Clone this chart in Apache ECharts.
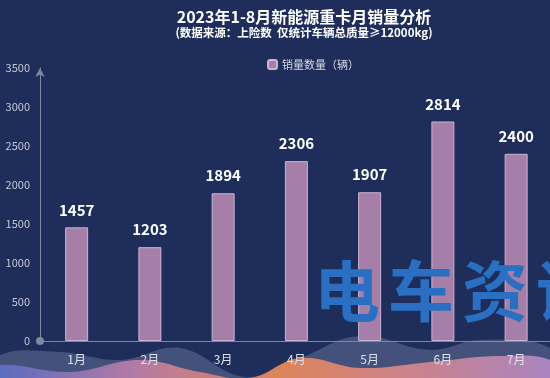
<!DOCTYPE html>
<html><head><meta charset="utf-8">
<script src="https://cdn.jsdelivr.net/npm/echarts@6/dist/echarts.min.js"></script>
<style>html,body{margin:0;padding:0;background:#1e2d5a;}#c{width:550px;height:378px;}</style>
</head><body><div id="c"></div>
<script>
const categories = ['1月','2月','3月','4月','5月','6月','7月','8月'];
const sales = [1457, 1203, 1894, 2306, 1907, 2814, 2400, null];
const yTicks = [0, 500, 1000, 1500, 2000, 2500, 3000, 3500];
const seriesName = '销量数量（辆）';
const titleText = '2023年1-8月新能源重卡月销量分析';
const subText = '(数据来源：上险数  仅统计车辆总质量≥12000kg)';
const watermark = ['电','车','资','讯'];

const chart = echarts.init(document.getElementById('c'), null, {renderer:'canvas'});
const F = '"Noto Sans CJK SC","Microsoft YaHei",sans-serif';
const wm = watermark.map((ch, i) => ({type:'text', silent:true, z:10, left: 314 + i*74, top: 258,
  style:{text: ch, fill:'#2a6fc2', font:'bold 66px "Noto Sans CJK SC", sans-serif'}}));
chart.setOption({
  backgroundColor: '#1e2d5a',
  animation: false,
  title: {
    text: titleText, subtext: subText, left: 299, top: 4, textAlign: 'center', itemGap: 2,
    textStyle: {color:'#ffffff', fontSize: 16, fontWeight:'bold', fontFamily: F},
    subtextStyle: {color:'#ffffff', fontSize: 11.5, fontWeight:'bold', fontFamily: F}
  },
  legend: {
    data: [seriesName], left: 262, top: 54, itemWidth: 9, itemHeight: 9, itemGap: 4,
    textStyle: {color:'#d5d8e4', fontSize: 11, fontFamily: F}
  },
  grid: {left: 40, width: 586, top: 68, bottom: 37, containLabel: false, outerBoundsMode: 'none'},
  xAxis: {
    type: 'category', data: categories,
    axisLine: {lineStyle:{color:'#7d86a3', width:1}, symbol:['circle','none'], symbolSize:[8,8]},
    axisTick: {show:false},
    axisLabel: {color:'#dfe2ec', fontSize: 12, margin: 12, fontFamily: F}
  },
  yAxis: {
    type: 'value', min: yTicks[0], max: yTicks[yTicks.length-1], interval: 500,
    axisLine: {show:true, lineStyle:{color:'#7d86a3', width:1}, symbol:['none','arrow'], symbolSize:[7,9]},
    axisTick: {show:false},
    splitLine: {show:false},
    axisLabel: {color:'#c5c9d8', fontSize: 11, margin: 10, fontFamily: F, formatter: v => String(v)}
  },
  graphic: [
    {type:'polygon', silent:true, z:-1, shape:{smooth:0.4, points:[[0,355],[60,352],[120,360],[180,348],[245,377],[300,358],[360,336],[430,350],[480,340],[550,348],[550,378],[0,378]]}, style:{fill:'rgba(140,150,185,0.35)'}},
    {type:'polygon', silent:true, z:-1, shape:{smooth:0.4, points:[[0,365],[70,372],[140,360],[200,372],[250,378],[300,358],[360,368],[430,362],[500,356],[550,360],[550,378],[0,378]]},
      style:{fill:{type:'linear',x:0,y:0,x2:1,y2:0,colorStops:[{offset:0,color:'#5d6fc8'},{offset:0.25,color:'#c07fa8'},{offset:0.5,color:'#ee8a55'},{offset:0.75,color:'#d9888f'},{offset:1,color:'#b48ac8'}]}, opacity:0.9}}
  ].concat(wm),
  series: [{
    name: seriesName, type: 'bar', data: sales, barWidth: 23,
    itemStyle: {color:'#a67fa9', borderColor:'#cbb3d6', borderWidth:1},
    label: {show:true, position:'top', distance: 10, color:'#ffffff', fontSize: 15, fontWeight:'bold', fontFamily: F}
  }]
});
</script></body></html>
